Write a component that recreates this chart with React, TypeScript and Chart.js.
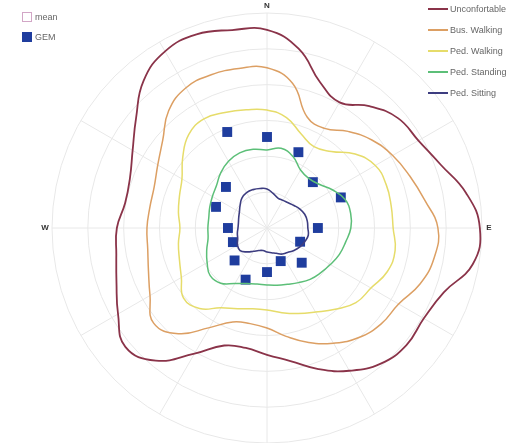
import React, { useEffect, useRef } from "react";
import { Chart, registerables } from "chart.js";

Chart.register(...registerables);

// Bearings (degrees clockwise from north) of the comfort contour samples
const contourBearings = [
  0, 10, 20, 30, 40, 50, 60, 70, 80, 90, 100, 110, 120, 130, 140, 150, 160, 170,
  180, 190, 200, 210, 220, 230, 240, 250, 260, 270, 280, 290, 300, 310, 320, 330, 340, 350,
];

const unconfortable = [
  55.3, 50.8, 43.3, 40.5, 44.4, 47.7, 48.8, 51.6, 56.4, 59.4, 58.3, 52.5, 50.5, 50.8, 49.4, 46.0, 41.9, 37.7,
  35.4, 34.0, 34.9, 40.5, 48.3, 51.6, 48.0, 44.7, 42.7, 41.9, 40.2, 40.7, 43.3, 47.7, 53.6, 56.9, 57.5, 56.1,
];
const busWalking = [
  44.7, 41.0, 32.9, 32.1, 35.2, 38.2, 40.5, 42.4, 44.7, 47.7, 47.4, 45.5, 42.4, 41.6, 39.9, 37.1, 34.0, 30.7,
  27.9, 27.1, 27.9, 32.1, 38.5, 41.3, 37.7, 35.2, 33.8, 33.5, 33.2, 33.5, 35.2, 38.0, 42.7, 45.2, 45.5, 45.2,
];
const pedWalking = [
  32.9, 31.3, 27.9, 26.2, 27.9, 32.1, 34.9, 35.4, 35.2, 35.2, 36.3, 35.7, 33.5, 32.4, 29.6, 27.1, 25.4, 24.0,
  22.9, 22.9, 24.0, 25.7, 29.3, 30.4, 27.6, 26.0, 25.1, 24.3, 25.1, 26.0, 27.4, 30.7, 34.0, 35.2, 34.3, 33.5,
];
const pedStanding = [
  21.8, 22.6, 21.2, 18.7, 18.1, 19.0, 21.2, 23.2, 23.7, 23.4, 22.3, 21.5, 20.4, 19.5, 18.7, 17.6, 16.7, 16.2,
  15.9, 15.9, 16.5, 17.9, 20.1, 20.7, 19.3, 17.9, 16.7, 16.5, 16.5, 17.0, 17.6, 18.4, 20.1, 21.5, 22.3, 22.3,
];
const pedSitting = [
  10.9, 9.8, 8.9, 8.9, 9.2, 9.8, 10.6, 11.2, 11.4, 11.4, 11.7, 11.2, 10.6, 9.8, 8.9, 8.4, 7.5, 7.0,
  6.7, 6.4, 6.7, 7.5, 8.7, 9.8, 9.5, 8.7, 8.4, 8.1, 8.1, 8.4, 8.9, 9.8, 10.9, 11.4, 11.4, 11.2,
];

// GEM results on the 16 compass bearings
const gemBearings = [0, 22.5, 45, 67.5, 90, 112.5, 135, 157.5, 180, 202.5, 225, 247.5, 270, 292.5, 315, 337.5];
const gemValues = [25.4, 22.9, 18.1, 22.3, 14.2, 10.0, 13.7, 10.0, 12.3, 15.6, 12.8, 10.3, 10.9, 15.4, 16.2, 29.0];

const radialMax = 60;
const radialStep = 10;

// Angular resolution of the radar categories, fine enough for both bearing sets
const STEP = 2.5;
const bearingLabels = Array.from({ length: 360 / STEP }, (_, i) => `${i * STEP}°`);

const compassLabels = [
  { text: "N", bearing: 0 },
  { text: "E", bearing: 90 },
  { text: "W", bearing: 270 },
];

const contours = [
  { name: "Unconfortable", values: unconfortable, color: "#8a3349", width: 1.8 },
  { name: "Bus. Walking", values: busWalking, color: "#dc9f63", width: 1.5 },
  { name: "Ped. Walking", values: pedWalking, color: "#e6dc6a", width: 1.5 },
  { name: "Ped. Standing", values: pedStanding, color: "#5cbf78", width: 1.5 },
  { name: "Ped. Sitting", values: pedSitting, color: "#3d3d80", width: 1.6 },
];

const GEM_COLOR = "#1f3d9e";
const MEAN_COLOR = "#d2a6c6";
const GRID_COLOR = "#e8e8e8";

function onBearingGrid(bearings: number[], values: number[]) {
  const arr: (number | null)[] = new Array(bearingLabels.length).fill(null);
  bearings.forEach((b, i) => {
    arr[Math.round(b / STEP)] = values[i];
  });
  return arr;
}

const compassPlugin = {
  id: "compassLabels",
  afterDraw(chart: any) {
    const r = chart.scales.r;
    const ctx = chart.ctx;
    ctx.save();
    ctx.font = 'bold 8px "Liberation Sans", Arial, sans-serif';
    ctx.fillStyle = "#333";
    ctx.textAlign = "center";
    ctx.textBaseline = "middle";
    compassLabels.forEach((c) => {
      const p = r.getPointPosition(Math.round(c.bearing / STEP), r.drawingArea + 7);
      ctx.fillText(c.text, p.x, p.y);
    });
    ctx.restore();
  },
};

const legendText: React.CSSProperties = {
  position: "absolute",
  font: '9px "Liberation Sans", Arial, sans-serif',
  color: "#666",
  lineHeight: "10px",
  whiteSpace: "nowrap",
};

export default function App() {
  const canvasRef = useRef<HTMLCanvasElement | null>(null);

  useEffect(() => {
    if (!canvasRef.current) return;
    const chart = new Chart(canvasRef.current, {
      type: "radar",
      data: {
        labels: bearingLabels,
        datasets: [
          ...contours.map((c) => ({
            label: c.name,
            data: onBearingGrid(contourBearings, c.values),
            borderColor: c.color,
            borderWidth: c.width,
            backgroundColor: "rgba(0,0,0,0)",
            fill: false,
            pointRadius: 0,
            tension: 0.45,
            spanGaps: true,
          })),
          {
            label: "GEM",
            data: onBearingGrid(gemBearings, gemValues),
            showLine: false,
            fill: false,
            backgroundColor: "rgba(0,0,0,0)",
            spanGaps: true,
            pointStyle: "rect",
            pointRadius: 7,
            pointBackgroundColor: GEM_COLOR,
            pointBorderColor: GEM_COLOR,
            pointBorderWidth: 0,
            borderWidth: 0,
          },
        ] as any,
      },
      options: {
        responsive: false,
        animation: false,
        events: [],
        layout: { padding: { left: 52, right: 38, top: 13, bottom: 0 } },
        plugins: { legend: { display: false }, tooltip: { enabled: false } },
        scales: {
          r: {
            min: 0,
            max: radialMax,
            ticks: { display: false, stepSize: radialStep },
            grid: { circular: true, color: GRID_COLOR, lineWidth: 1 },
            angleLines: {
              display: true,
              color: (ctx: any) => (ctx.index % 12 === 0 ? GRID_COLOR : "rgba(0,0,0,0)"),
              lineWidth: 1,
            },
            pointLabels: { display: false },
          },
        },
      } as any,
      plugins: [compassPlugin],
    });
    return () => chart.destroy();
  }, []);

  return (
    <div style={{ position: "absolute", left: 0, top: 0, width: 520, height: 443, overflow: "hidden", background: "#fff" }}>
      <canvas ref={canvasRef} width={520} height={443} style={{ display: "block" }} />
      {/* left legend */}
      <div style={{ position: "absolute", left: 22, top: 12, width: 8, height: 8, border: `1px solid ${MEAN_COLOR}`, background: "#fff" }} />
      <div style={{ ...legendText, left: 35, top: 12 }}>mean</div>
      <div style={{ position: "absolute", left: 22, top: 32, width: 10, height: 10, background: GEM_COLOR }} />
      <div style={{ ...legendText, left: 35, top: 32 }}>GEM</div>
      {/* right legend */}
      {contours.map((c, i) => (
        <React.Fragment key={c.name}>
          <div
            style={{
              position: "absolute",
              left: 428,
              top: 9 + i * 21 - 1,
              width: 20,
              height: 2,
              background: c.color,
            }}
          />
          <div style={{ ...legendText, left: 450, top: 9 + i * 21 - 5 }}>{c.name}</div>
        </React.Fragment>
      ))}
    </div>
  );
}
